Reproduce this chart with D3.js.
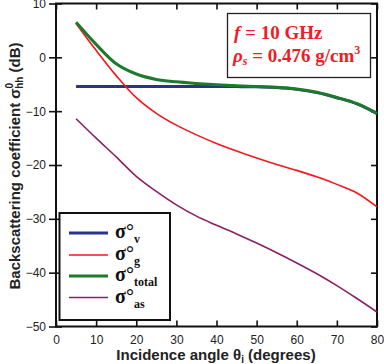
<!DOCTYPE html>
<html>
<head>
<meta charset="utf-8">
<script src="https://cdn.jsdelivr.net/npm/d3@7.9.0/dist/d3.min.js"></script>
<style>
  body { margin: 0; background: #fff; }
  svg { display: block; }
</style>
</head>
<body>
<div id="chart"></div>
<script>
// values (dB vs incidence angle in degrees)
const angles = [5, 10, 15, 20, 25, 30, 35, 40, 45, 50, 55, 60, 65, 70, 75, 80];
const sigmaV = [-5.44, -5.44, -5.44, -5.44, -5.44, -5.44, -5.44, -5.44, -5.44, -5.47, -5.62, -5.95, -6.55, -7.5, -8.65, -10.45];
const sigmaG = [6.3, 1.3, -3.4, -7.5, -10.4, -12.6, -14.4, -16.0, -17.4, -18.7, -19.9, -21.0, -22.2, -23.6, -25.2, -27.8];
const sigmaTotal = [6.5, 2.4, -1.2, -3.1, -4.1, -4.55, -4.85, -5.1, -5.28, -5.42, -5.57, -5.9, -6.5, -7.45, -8.6, -10.4];
const sigmaAs = [-11.4, -15.0, -18.5, -22.1, -24.9, -27.4, -29.5, -31.2, -32.8, -34.5, -36.3, -38.2, -40.2, -42.4, -44.8, -47.3];

const xTicks = [0, 10, 20, 30, 40, 50, 60, 70, 80];
const yTicks = [10, 0, -10, -20, -30, -40, -50];

const series = [
  { key: 'v', values: sigmaV, color: '#2b3192', width: 3 },
  { key: 'g', values: sigmaG, color: '#f5161b', width: 1.6 },
  { key: 'total', values: sigmaTotal, color: '#1d7a2c', width: 3 },
  { key: 'as', values: sigmaAs, color: '#8a2167', width: 1.6 }
];

const width = 384, height = 364;
const svg = d3.select('#chart').append('svg')
  .attr('width', width)
  .attr('height', height);

const x = d3.scaleLinear().domain([0, 80]).range([56, 377]);
const y = d3.scaleLinear().domain([-50, 10]).range([326.5, 3.5]);

const font = 'Liberation Sans, Arial, sans-serif';

// left axis: ticks cross the frame
svg.append('g')
  .attr('transform', `translate(${x(0)},0)`)
  .call(d3.axisLeft(y).tickValues(yTicks).tickSizeInner(7).tickSizeOuter(0).tickPadding(3).tickFormat(d3.format('d')));
svg.append('g')
  .attr('transform', `translate(${x(0)},0)`)
  .call(d3.axisRight(y).tickValues(yTicks).tickSizeInner(6).tickSizeOuter(0).tickFormat(''));
// right axis inward
svg.append('g')
  .attr('transform', `translate(${x(80)},0)`)
  .call(d3.axisLeft(y).tickValues(yTicks).tickSizeInner(6).tickSizeOuter(0).tickFormat(''));
// bottom axis inward with labels below
svg.append('g')
  .attr('transform', `translate(0,${y(-50)})`)
  .call(d3.axisBottom(x).tickValues(xTicks).tickSizeInner(-6).tickSizeOuter(0).tickPadding(9));
// top axis inward
svg.append('g')
  .attr('transform', `translate(0,${y(10)})`)
  .call(d3.axisTop(x).tickValues(xTicks).tickSizeInner(-6).tickSizeOuter(0).tickFormat(''));

svg.selectAll('.domain').remove();
svg.selectAll('.tick line').attr('stroke', '#111').attr('stroke-width', 1.6);
svg.selectAll('.tick text')
  .attr('font-family', font)
  .attr('font-size', 12)
  .attr('fill', '#222');

// frame
svg.append('rect')
  .attr('x', x(0)).attr('y', y(10))
  .attr('width', x(80) - x(0)).attr('height', y(-50) - y(10))
  .attr('fill', 'none')
  .attr('stroke', '#111')
  .attr('stroke-width', 2);

// curves
const line = d3.line()
  .x((d, i) => x(angles[i]))
  .y(d => y(d))
  .curve(d3.curveCatmullRom.alpha(0.5));

svg.append('g')
  .selectAll('path')
  .data(series)
  .join('path')
  .attr('d', d => line(d.values))
  .attr('fill', 'none')
  .attr('stroke', d => d.color)
  .attr('stroke-width', d => d.width);

// annotation box
svg.append('rect')
  .attr('x', 227.5).attr('y', 13.5)
  .attr('width', 143).attr('height', 64)
  .attr('fill', '#fff')
  .attr('stroke', '#222')
  .attr('stroke-width', 1.3);

const note = svg.append('g')
  .attr('font-family', 'Liberation Serif, Times New Roman, serif')
  .attr('font-weight', 'bold')
  .attr('font-size', 19)
  .attr('fill', '#ee1c24');

const t1 = note.append('text').attr('x', 234).attr('y', 38.5);
t1.append('tspan').attr('font-style', 'italic').text('f');
t1.append('tspan').text(' = 10 GHz');

const t2 = note.append('text').attr('x', 233).attr('y', 62);
t2.append('tspan').attr('font-style', 'italic').text('ρ');
t2.append('tspan').attr('font-style', 'italic').attr('font-size', 12).attr('dy', 3).text('s');
t2.append('tspan').attr('dy', -3).text(' = 0.476 g/cm');
t2.append('tspan').attr('font-size', 12).attr('dy', -8).text('3');

// legend
svg.append('rect')
  .attr('x', 59.5).attr('y', 213)
  .attr('width', 110.5).attr('height', 107)
  .attr('fill', '#fff')
  .attr('stroke', '#111')
  .attr('stroke-width', 2);

const legendY = [233, 255, 276, 297.5];
const legend = svg.append('g')
  .selectAll('g')
  .data(series)
  .join('g')
  .attr('transform', (d, i) => `translate(0,${legendY[i]})`);

legend.append('line')
  .attr('x1', 69).attr('x2', 108)
  .attr('stroke', d => d.color)
  .attr('stroke-width', d => d.width);

const lt = legend.append('text')
  .attr('x', 115)
  .attr('y', 5)
  .attr('font-family', 'Liberation Serif, Times New Roman, serif')
  .attr('font-weight', 'bold')
  .attr('font-size', 20)
  .attr('fill', '#111');
lt.append('tspan').text('σ°');
lt.append('tspan').attr('font-size', 12).attr('dy', 5).text(d => d.key);

// axis titles
const xt = svg.append('text')
  .attr('x', 216).attr('y', 360)
  .attr('text-anchor', 'middle')
  .attr('font-family', font)
  .attr('font-weight', 'bold')
  .attr('font-size', 15)
  .attr('fill', '#222');
xt.append('tspan').text('Incidence angle θ');
xt.append('tspan').attr('font-size', 10).attr('dy', 3).text('i');
xt.append('tspan').attr('dy', -3).text(' (degrees)');

const yt = svg.append('text')
  .attr('transform', 'translate(20,166) rotate(-90)')
  .attr('text-anchor', 'middle')
  .attr('font-family', font)
  .attr('font-weight', 'bold')
  .attr('font-size', 15)
  .attr('fill', '#222');
yt.append('tspan').text('Backscattering coefficient σ');
yt.append('tspan').attr('font-size', 10).attr('dy', -7).text('0');
yt.append('tspan').attr('font-size', 10).attr('dy', 10).attr('dx', -6).text('hh');
yt.append('tspan').attr('dy', -3).text(' (dB)');
</script>
</body>
</html>
